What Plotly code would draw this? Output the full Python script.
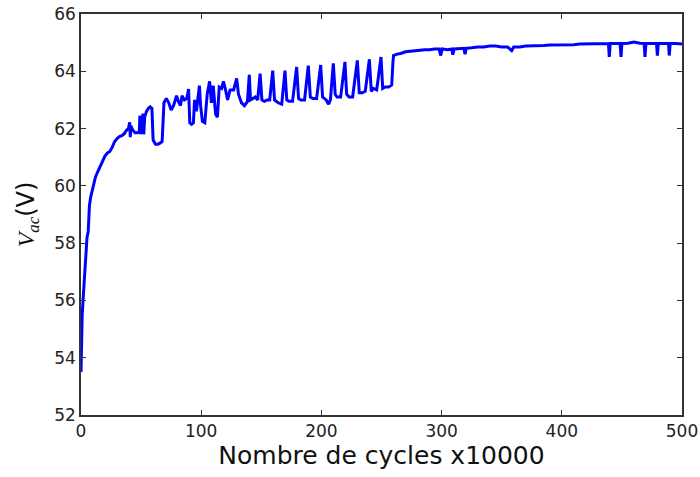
import plotly.graph_objects as go

# cycles (x10000)
cycles = [0, 0.5, 1, 2, 3, 4, 5, 6, 7, 8, 10, 12, 14, 16, 18, 20, 22, 24, 26, 28, 30, 32, 34, 36, 38, 39.5,
          40.5, 41, 41.5, 43, 45, 47, 48.5, 49, 49.5, 50.5, 51.5, 52.2, 53, 54.5, 56, 57.5, 59, 60, 62, 64, 66,
          67.5, 69, 71, 73, 75, 77, 79.5, 81, 82.8, 84, 86, 88, 89.5, 90.5, 92, 93.5, 94.5, 96, 98.5, 99.5,
          101, 103, 105, 107, 108.5, 110, 112, 113.5, 115, 117, 118.5, 120, 122, 124, 127, 129.5, 131, 133.5,
          136, 138.5, 140, 141, 143, 145, 147, 149, 150.5, 152.5, 155, 157, 159.5, 161, 164, 167, 169.7, 171.2,
          173, 176, 179.4, 181, 183, 186, 189.1, 190.8, 193, 196, 199.4, 201, 204, 206, 207.5, 209.9, 211.5,
          213, 216, 219.6, 221, 223, 226, 229.9, 231.5, 234, 236.5, 239.9, 241.5, 243, 246, 249.6, 251, 253,
          256, 258.5, 259.5, 260, 263, 266, 270, 274, 278, 282, 286, 290, 294, 298, 299.2, 300.5, 305, 308.5,
          309.3, 310.5, 315, 318.5, 319.5, 320.5, 325, 330, 335, 340, 345, 350, 355, 358.3, 360, 365, 370, 375,
          380, 385, 390, 395, 400, 405, 410, 415, 420, 425, 430, 435, 438.8, 439.5, 440.3, 445, 448.5, 449.3,
          450, 455, 460, 465, 468.5, 469.2, 470, 475, 478.8, 479.5, 480.3, 485, 488.8, 489.4, 490.2, 495, 500]

vac = [53.5, 54.5, 55.5, 56.2, 57.0, 57.8, 58.2, 58.4, 59.3, 59.6, 60.0, 60.3, 60.5, 60.7, 60.9, 61.05, 61.15,
       61.2, 61.35, 61.55, 61.65, 61.72, 61.75, 61.82, 61.95, 62.0,
       62.22, 61.7, 62.1, 61.95, 61.85, 61.85, 61.9, 62.45, 61.85, 61.85, 62.52, 61.8, 62.4, 62.6, 62.7, 62.76,
       62.7, 61.6, 61.45, 61.45, 61.5,
       61.55, 62.9, 63.05, 62.9, 62.65, 62.8, 63.15, 62.95, 62.8, 63.15, 63.0, 63.05, 63.38, 62.2, 62.15, 62.2,
       63.0, 62.6, 63.5, 62.8,
       62.25, 62.2, 63.2, 63.65, 62.9, 63.5, 62.5, 62.4, 63.45, 63.4, 63.65, 63.4, 63.0, 63.35, 63.35, 63.75,
       63.2, 62.9,
       62.8, 62.95, 63.88, 63.0, 63.05, 63.1, 63.0, 63.92, 63.0, 62.95, 63.0, 63.0, 64.02, 63.0, 62.9, 62.85,
       64.02, 63.0,
       62.95, 62.95, 64.15, 63.05, 63.0, 63.0, 64.2, 63.1, 63.05, 63.05, 64.22, 63.1, 63.0, 62.85, 63.0, 64.28,
       63.2,
       63.1, 63.1, 64.33, 63.2, 63.1, 63.1, 64.38, 63.25, 63.25, 63.3, 64.42, 63.3, 63.4, 63.35, 64.5, 63.4,
       63.45,
       63.45, 63.52, 64.3, 64.55, 64.6, 64.62, 64.68, 64.7, 64.72, 64.72, 64.75, 64.75, 64.78, 64.78, 64.55,
       64.78, 64.75, 64.78,
       64.58, 64.78, 64.78, 64.8, 64.6, 64.8, 64.82, 64.85, 64.85, 64.88, 64.88, 64.85, 64.85, 64.72, 64.85,
       64.85, 64.88, 64.88,
       64.9, 64.9, 64.92, 64.92, 64.92, 64.93, 64.93, 64.95, 64.95, 64.96, 64.97, 64.97, 64.97, 64.5, 64.97,
       64.97, 64.97, 64.5,
       64.97, 64.98, 65.02, 64.98, 64.97, 64.5, 64.97, 64.97, 64.97, 64.55, 64.97, 64.97, 64.97, 64.55, 64.97,
       64.97, 64.95]

x_ticks = [0, 100, 200, 300, 400, 500]
y_ticks = [52, 54, 56, 58, 60, 62, 64, 66]

fig = go.Figure()
fig.add_trace(go.Scatter(x=cycles, y=vac, mode="lines",
                         line=dict(color="#0000ff", width=3), showlegend=False))

axis_common = dict(showline=True, linecolor="#333333", linewidth=1.5, mirror="ticks",
                   ticks="inside", ticklen=5, tickwidth=1, tickcolor="#333333",
                   showgrid=False, zeroline=False, automargin=False,
                   tickfont=dict(family="DejaVu Sans", size=17, color="#222222"))

fig.update_xaxes(range=[0, 500], tickvals=x_ticks, ticktext=[str(v) for v in x_ticks],
                 title=dict(text="Nombre de cycles x10000",
                            font=dict(family="DejaVu Sans", size=25, color="#111111"), standoff=6),
                 **axis_common)
fig.update_yaxes(range=[52, 66], tickvals=y_ticks, ticktext=[str(v) for v in y_ticks],
                 title=dict(text="<span style='font-family:Liberation Serif'><i>V</i><sub><i>ac</i></sub></span>(V)",
                            font=dict(family="DejaVu Sans", size=24, color="#111111"), standoff=13),
                 **axis_common)

fig.update_layout(width=700, height=477, margin=dict(l=81, r=18, t=14, b=62),
                  plot_bgcolor="white", paper_bgcolor="white")

# remove the browser's default 8px body margin so the figure fills the window
fig.write_html("out.html", config={"displayModeBar": False},
               post_script="document.body.style.margin='0';document.body.style.overflow='hidden';")
